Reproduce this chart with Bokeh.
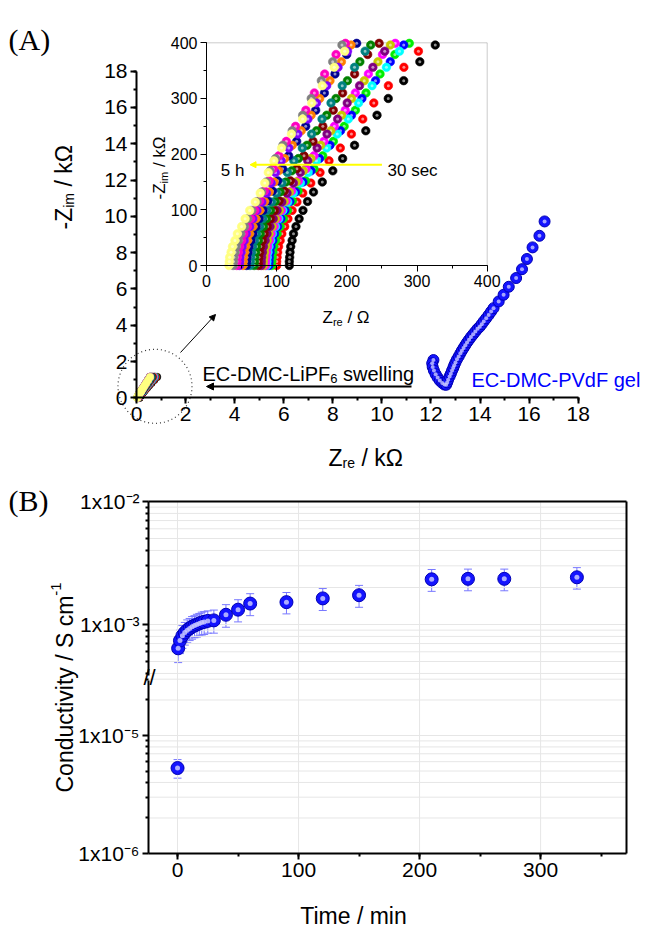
from bokeh.plotting import figure
from bokeh.models import (Range1d, LinearAxis, LogAxis, LogScale, FixedTicker,
                          SingleIntervalTicker, BoxAnnotation, Label, Arrow,
                          NormalHead, TeeHead, Whisker, ColumnDataSource, Grid)
from bokeh.layouts import column
from bokeh.embed import file_html
from bokeh.resources import INLINE

FONT = "Liberation Sans"
SERIF = "Liberation Serif"

# ------------------------------------------------------------------ data
# Inset / swelling spectra: -Z_im (Ohm) sampling of the spectra
ZIM_A = [0, 7, 15, 24, 34, 45, 57, 70, 84, 99, 115, 132, 150, 170, 192, 216,
         242, 270, 300, 332, 366, 396, 470, 560, 680, 820, 980, 1150]
ZIM_B = [0, 7, 15, 24, 34, 45, 57, 70, 84, 99, 114, 130, 148, 167, 188, 211,
         236, 263, 292, 323, 356, 385, 462, 552, 672, 812, 972, 1142]
ZIM_C = [0, 7, 15, 24, 34, 45, 57, 70, 84, 99, 116, 134, 152, 174, 197, 223,
         250, 279, 310, 344, 379, 399, 478, 568, 688, 828, 988, 1158]
# Z_re (Ohm) of each spectrum, from 30 sec (right) to 5 h (left)
ZRE_30S = [118, 118, 118.5, 119, 120, 122, 124, 127.5, 132, 137.5, 144, 152.5, 165, 180, 194, 211,
           227, 243, 259, 281, 304, 326, 373, 434, 515, 612, 722, 840]
ZRE_S2 = [100, 100, 100.6, 101.4, 102.7, 105, 107.4, 111.5, 116.1, 122, 128.9, 137.2, 148.6, 161.8, 174.6, 190.7,
          206.5, 222.7, 238.4, 259.2, 281.3, 302, 347.4, 405.4, 482.6, 574.7, 679, 791]
ZRE_S3 = [93, 93.1, 93.7, 94.6, 95.9, 98.3, 100.7, 105, 109.6, 115.4, 122.3, 130.4, 141.2, 153.2, 165.6, 180.8,
          196.2, 212.2, 227.3, 247.3, 268.5, 289, 333, 389, 463, 552, 652, 760]
ZRE_S4 = [89, 89.2, 89.7, 90.7, 92, 94.5, 97, 101.4, 106, 111.9, 118.8, 126.9, 137.4, 149, 161, 176,
          191, 206.6, 221.5, 240.9, 261.9, 281, 324, 378.6, 451, 537, 635, 740]
ZRE_S5 = [86, 86.2, 86.7, 87.7, 89.1, 91.6, 94.1, 98.5, 103.1, 108.9, 115.9, 123.7, 133.9, 144.9, 156.6, 171.2,
          186.3, 202.1, 216.7, 235.9, 256.4, 275, 317.5, 371, 442, 526.6, 622.6, 725.6]
ZRE_S6 = [84, 84.2, 84.7, 85.7, 87.1, 89.6, 92.1, 96.5, 101.1, 106.8, 113.6, 121.4, 131.1, 141.9, 153.2, 167.4,
          182.2, 197.7, 212.1, 230.7, 250.8, 269, 310.5, 362.9, 432.3, 514.6, 608.3, 708.8]
ZRE_S7 = [81, 81.2, 81.7, 82.8, 84.2, 86.7, 89.2, 93.6, 98.1, 103.8, 110.6, 118.2, 127.7, 137.9, 148.8, 162.7,
          177.2, 192.5, 206.6, 224.8, 244.3, 262, 302.7, 353.6, 421.4, 501.6, 593, 690.7]
ZRE_S8 = [78, 78.2, 78.7, 79.8, 81.2, 83.7, 86.3, 90.6, 95.1, 100.7, 107.4, 114.8, 123.9, 133.6, 144.3, 157.6,
          171.7, 186.8, 200.5, 218.1, 237.1, 254, 293.6, 343.2, 408.8, 486.4, 574.9, 669.7]
ZRE_S9 = [74, 74.2, 74.7, 75.9, 77.3, 79.9, 82.4, 86.9, 91.3, 96.9, 103.6, 110.8, 119.5, 128.8, 138.9, 151.8,
          165.8, 180.6, 194, 211.1, 229.7, 246, 284.7, 332.8, 396.6, 472.1, 558.1, 650.1]
ZRE_S10 = [68, 68.3, 68.7, 70, 71.4, 74, 76.6, 81.2, 85.5, 91.1, 97.8, 104.8, 113, 121.4, 130.9, 143.3,
           156.8, 171.4, 184.5, 200.8, 218.6, 234, 271.4, 317.5, 378.6, 450.7, 533, 621]
ZRE_S11 = [62, 62.3, 62.8, 64.1, 65.6, 68.3, 71.1, 75.8, 80.2, 85.8, 92.7, 99.6, 107.4, 115.2, 124.5, 136.5,
           149.8, 164.6, 177.4, 193.4, 210.9, 226, 262.8, 308, 367.9, 438.2, 518.6, 604.7]
ZRE_S12 = [57, 57.3, 57.8, 59.2, 60.7, 63.4, 66.1, 70.8, 75.1, 80.7, 87.4, 94, 101.4, 108.4, 117.1, 128.5,
           141.4, 155.6, 168, 183.1, 199.8, 214, 249.2, 292.2, 349.1, 415.9, 492.4, 574]
ZRE_S13 = [52, 52.3, 52.8, 54.2, 55.8, 58.6, 61.4, 66.2, 70.5, 76.1, 82.8, 89.4, 96.4, 102.9, 111.2, 122.2,
           135, 149.1, 161.3, 176, 192.3, 206, 240.5, 282.4, 337.8, 402.7, 477, 556.4]
ZRE_S14 = [47, 47.4, 47.8, 49.4, 51, 53.9, 56.8, 61.8, 66.2, 72, 78.9, 85.5, 92.2, 98.3, 106.4, 117.3,
           130.2, 144.5, 156.7, 171.3, 187.5, 201, 235.4, 276.9, 331.9, 396.1, 469.7, 548.3]
ZRE_S15 = [43, 43.4, 43.9, 45.5, 47.2, 50.3, 53.3, 58.5, 63, 68.8, 76, 82.6, 89.3, 95, 103, 113.8,
           126.9, 141.6, 153.7, 168.4, 184.6, 198, 232.6, 274.1, 329.2, 393.3, 466.8, 545.3]
ZRE_S16 = [38, 38.4, 38.9, 40.7, 42.5, 45.6, 48.8, 54.2, 58.8, 64.8, 72.1, 78.7, 85.2, 90.5, 98.3, 108.9,
           122.1, 137, 149.2, 163.6, 179.8, 193, 227.6, 268.7, 323.3, 386.8, 459.6, 537.3]
ZRE_5H = [32, 32.5, 33, 35, 37, 40.5, 44, 50, 55, 61.5, 69.5, 76.5, 83, 88, 96, 107,
          121, 137, 150, 165, 182, 197, 232, 275, 332, 398, 474, 555]
SPECTRA = [ZRE_30S, ZRE_S2, ZRE_S3, ZRE_S4, ZRE_S5, ZRE_S6, ZRE_S7, ZRE_S8, ZRE_S9,
           ZRE_S10, ZRE_S11, ZRE_S12, ZRE_S13, ZRE_S14, ZRE_S15, ZRE_S16, ZRE_5H]
SPEC_ZIM = [ZIM_A, ZIM_B, ZIM_C, ZIM_A, ZIM_B, ZIM_C, ZIM_A, ZIM_B, ZIM_C,
            ZIM_A, ZIM_B, ZIM_C, ZIM_A, ZIM_B, ZIM_C, ZIM_A, ZIM_B]
SPEC_COLORS = ["#000000", "#ff0000", "#00ee00", "#0000ff", "#00ffff", "#ff00ff", "#c8c800",
               "#800080", "#800000", "#008000", "#008080", "#000090", "#ff8000", "#8000ff",
               "#ff00c0", "#808080", "#ffff80"]

# EC-DMC-PVdF gel spectrum (kOhm)
GEL_ZRE = [12.10, 12.05, 12.07, 12.12, 12.19, 12.27, 12.36, 12.46, 12.55, 12.62, 12.66, 12.70,
           12.76, 12.81, 12.86, 12.91, 12.95, 13.00, 13.06, 13.13, 13.20, 13.26, 13.33, 13.40,
           13.47, 13.55, 13.63, 13.72, 13.81, 13.90, 13.99, 14.07, 14.15, 14.25, 14.35, 14.45,
           14.55, 14.76, 14.96, 15.17, 15.47, 15.71, 15.91, 16.14, 16.42, 16.63]
GEL_ZIM = [2.08, 1.90, 1.70, 1.50, 1.30, 1.12, 0.95, 0.82, 0.73, 0.72, 0.85, 1.00,
           1.18, 1.33, 1.50, 1.65, 1.80, 1.95, 2.12, 2.28, 2.45, 2.60, 2.75, 2.90,
           3.05, 3.20, 3.35, 3.50, 3.65, 3.80, 3.92, 4.06, 4.21, 4.38, 4.56, 4.75,
           4.94, 5.31, 5.68, 6.12, 6.60, 7.09, 7.65, 8.29, 8.93, 9.72]

# Panel B conductivity
TIME_MIN = [0.5, 2, 4, 6, 8, 10, 12, 14, 16, 18, 20, 22, 25, 30, 40, 50, 60, 90, 120, 150, 210, 240, 270, 330]
SIGMA = [6.4e-4, 7.4e-4, 8.1e-4, 8.6e-4, 9.0e-4, 9.3e-4, 9.6e-4, 9.8e-4, 1.0e-3, 1.02e-3, 1.04e-3,
         1.05e-3, 1.07e-3, 1.08e-3, 1.2e-3, 1.32e-3, 1.48e-3, 1.52e-3, 1.63e-3, 1.73e-3, 2.33e-3,
         2.35e-3, 2.35e-3, 2.42e-3]
SIGMA_ERR = [1.5e-4, 1.6e-4, 1.7e-4, 1.8e-4, 1.9e-4, 1.9e-4, 2.0e-4, 2.0e-4, 2.1e-4, 2.1e-4, 2.2e-4,
             2.2e-4, 2.2e-4, 2.3e-4, 2.5e-4, 2.7e-4, 3.0e-4, 3.0e-4, 3.3e-4, 3.5e-4, 4.7e-4,
             4.7e-4, 4.7e-4, 4.8e-4]
TIME_DRY = [0]
SIGMA_DRY = [5.3e-6]
SIGMA_DRY_ERR = [0.95e-6]

TIME_TICKS = [0, 100, 200, 300]
UP_MAJOR = [1e-3, 1e-2]
UP_MINOR = [4e-4, 5e-4, 6e-4, 7e-4, 8e-4, 9e-4, 2e-3, 3e-3, 4e-3, 5e-3, 6e-3, 7e-3, 8e-3, 9e-3]
UP_LABELS = ["1x10\u207b\u00b3", "1x10\u207b\u00b2"]
LO_MAJOR = [1e-6, 1e-5]
LO_MINOR = [2e-6, 3e-6, 4e-6, 5e-6, 6e-6, 7e-6, 8e-6, 9e-6, 2e-5, 3e-5]
LO_LABELS = ["1x10\u207b\u2076", "1x10\u207b\u2075"]

# ------------------------------------------------------------------ helpers
AW = {'-': .333, 'Z': .611, 'i': .222, 'm': .833, ' ': .278, '/': .278, 'k': .5, '\u03a9': .768,
      'r': .333, 'e': .556, 'E': .667, 'C': .722, 'D': .722, 'M': .833, 'L': .556, 'P': .667,
      'F': .611, 's': .5, 'w': .722, 'l': .222, 'n': .556, 'g': .556, 'o': .556, 'd': .556,
      'u': .556, 'c': .5, 't': .278, 'v': .5, 'y': .5, 'S': .667, 'T': .611, 'x': .5}


def tw(s, size):
    return sum(AW.get(ch, .556) for ch in s) * size


def rich(fig, parts, px, py, xf, yf, vertical=False, color="black"):
    pos = 0.0
    for text, size, shift in parts:
        lead = len(text) - len(text.lstrip(" "))
        pos += lead * AW[' '] * size
        body = text.strip(" ")
        if vertical:
            lx, ly = px + shift, py - pos
        else:
            lx, ly = px + pos, py + shift
        fig.add_layout(Label(x=xf(lx), y=yf(ly), text=body, text_font=FONT,
                             text_font_size=f"{size}px", text_color=color,
                             text_align="left", text_baseline="alphabetic",
                             angle=90 if vertical else 0, angle_units="deg"))
        pos += tw(body, size)
        trail = len(text) - len(text.rstrip(" "))
        pos += trail * AW[' '] * size


def style_axis(ax, fs, lw):
    ax.axis_line_width = lw
    ax.axis_line_color = "black"
    ax.major_tick_in = 0
    ax.major_tick_out = 6
    ax.minor_tick_in = 0
    ax.minor_tick_out = 3
    ax.major_tick_line_width = lw
    ax.minor_tick_line_width = lw
    ax.major_tick_line_color = "black"
    ax.minor_tick_line_color = "black"
    ax.major_label_text_font = FONT
    ax.major_label_text_font_size = fs
    ax.major_label_text_color = "black"
    ax.major_label_standoff = 3


ORX, ORY = 0, 0                      # page position of the first canvas

# ------------------------------------------------------------------ panel A
WA, HA = 646, 472
PXK, PYK = 24.539, 18.144            # px per kOhm
X0P, Y0P = 136.0, 397.3              # page px of main origin


def XA(px):
    return (px - X0P) / PXK


def YA(py):
    return (Y0P - py) / PYK


IPX, IPY = 0.70175, 0.55675          # inset px per Ohm
IX0P, IY0P = 206.0, 265.0

pA = figure(width=WA, height=HA, x_range=Range1d(XA(ORX), XA(ORX + WA)),
            y_range=Range1d(YA(ORY + HA), YA(ORY)), x_axis_location=None, y_axis_location=None,
            toolbar_location=None, output_backend="svg", min_border=0,
            outline_line_color=None)
for g in pA.select(type=Grid):
    g.visible = False
pA.extra_x_ranges = {"ix": Range1d((ORX - IX0P) / IPX, (ORX + WA - IX0P) / IPX)}
pA.extra_y_ranges = {"iy": Range1d((IY0P - ORY - HA) / IPY, (IY0P - ORY) / IPY)}

axx = LinearAxis(fixed_location=0, bounds=(0, 18),
                 ticker=SingleIntervalTicker(interval=2, num_minor_ticks=2))
style_axis(axx, "21px", 2)
pA.add_layout(axx, "below")
axy = LinearAxis(fixed_location=0, bounds=(0, 18),
                 ticker=SingleIntervalTicker(interval=2, num_minor_ticks=2))
style_axis(axy, "21px", 2)
pA.add_layout(axy, "left")

# inset frame and axes
pA.add_layout(BoxAnnotation(left=0, right=400, bottom=0, top=400, x_range_name="ix",
                            y_range_name="iy", fill_color="white", fill_alpha=1.0,
                            line_color="#555555", line_width=1, level="underlay"))
iax = LinearAxis(x_range_name="ix", y_range_name="iy", fixed_location=0, bounds=(0, 400),
                 ticker=SingleIntervalTicker(interval=100, num_minor_ticks=2))
style_axis(iax, "16px", 1)
pA.add_layout(iax, "below")
iay = LinearAxis(x_range_name="ix", y_range_name="iy", fixed_location=0, bounds=(0, 400),
                 ticker=SingleIntervalTicker(interval=100, num_minor_ticks=2))
style_axis(iay, "16px", 1)
pA.add_layout(iay, "left")

# spectra in inset and (kOhm) in main plot
for zre, zim, col in zip(SPECTRA, SPEC_ZIM, SPEC_COLORS):
    keep = [(x, y) for x, y in zip(zre, zim) if x <= 400 and y <= 400]
    xi = [k[0] for k in keep]
    yi = [k[1] for k in keep]
    pA.scatter(xi, yi, x_range_name="ix", y_range_name="iy", size=8.5,
               fill_color=col, line_color=col, line_alpha=0.6)
    pA.scatter(xi, yi, x_range_name="ix", y_range_name="iy", size=3,
               fill_color="white", fill_alpha=0.55, line_color=None)
    pA.scatter([x / 1000 for x in zre], [y / 1000 for y in zim], size=7.5,
               fill_color=col, line_color=col, line_alpha=0.5)

# gel spectrum
pA.scatter(GEL_ZRE, GEL_ZIM, size=11, fill_color="#1414ff", line_color="#0000b4", line_width=1)
pA.scatter(GEL_ZRE, GEL_ZIM, size=4, fill_color="#c8c8ff", fill_alpha=0.8, line_color=None)

# magnifier circle + pointer
pA.circle(x=XA(154.5), y=YA(385.8), radius=37, radius_units="screen", fill_color=None,
          line_color="#333333", line_dash="1 3", line_width=1.2)
pA.add_layout(Arrow(x_start=XA(180), y_start=YA(352), x_end=XA(215), y_end=YA(314),
                    line_color="black", line_width=1,
                    end=NormalHead(size=6, fill_color="black", line_color="black")))
# swelling arrow
pA.add_layout(Arrow(x_start=XA(411), y_start=YA(386), x_end=XA(206), y_end=YA(386),
                    line_color="black", line_width=2,
                    end=NormalHead(size=7, fill_color="black", line_color="black")))
# yellow arrow in inset
pA.add_layout(Arrow(x_start=250, y_start=181, x_end=62, y_end=181, x_range_name="ix",
                    y_range_name="iy", line_color="#ffff00", line_width=2,
                    end=NormalHead(size=6, fill_color="#ffff00", line_color="#ffff00")))

# texts
pA.add_layout(Label(x=XA(8), y=YA(39), text="(A)", text_font=SERIF, text_font_size="30px",
                    text_color="black", text_baseline="alphabetic"))
pA.add_layout(Label(x=XA(244), y=YA(170), text="5 h", text_font=FONT, text_font_size="17px",
                    text_color="black", text_align="right", text_baseline="alphabetic"))
pA.add_layout(Label(x=XA(387), y=YA(170), text="30 sec", text_font=FONT, text_font_size="17px",
                    text_color="black", text_align="left", text_baseline="alphabetic"))
pA.add_layout(Label(x=XA(471), y=YA(379), text="EC-DMC-PVdF gel", text_font=FONT,
                    text_font_size="20px", text_color="#0000ff", text_baseline="alphabetic"))
rich(pA, [("EC-DMC-LiPF", 20, 0), ("6", 13, 5), (" swelling", 20, 0)], 202, 373, XA, YA)
rich(pA, [("Z", 23, 0), ("re", 14, 5), (" / k\u03a9", 23, 0)], 328, 457, XA, YA)
rich(pA, [("-Z", 23, 0), ("im", 14, 5), (" / k\u03a9", 23, 0)], 63, 229, XA, YA, vertical=True)
rich(pA, [("Z", 17, 0), ("re", 11, 4), (" / \u03a9", 17, 0)], 322, 317, XA, YA)
rich(pA, [("-Z", 17, 0), ("im", 11, 4), (" / k\u03a9", 17, 0)], 159, 199, XA, YA, vertical=True)

# ------------------------------------------------------------------ panel B
WB, HB = 646, 463
TOPB = ORY + HA                      # page y of figure top
FL, FR, FT, FB = 148, 626, 501, 853  # plot-box edges (page px)
XB0, XB1 = -24.0, 371.0              # time range of the plot box
DEC_UP, DEC_LO = 123.0, 118.0        # px per decade


def XB(px):
    return XB0 + (px - FL) * (XB1 - XB0) / (FR - FL)


def YB(py):
    return (FB - py) / (FB - FT)


pB = figure(width=WB, height=HB, x_range=Range1d(XB(ORX), XB(ORX + WB)),
            y_range=Range1d(YB(TOPB + HB), YB(TOPB)),
            x_axis_location=None, y_axis_location=None, toolbar_location=None,
            output_backend="svg", min_border=0, outline_line_color=None)
for g in pB.select(type=Grid):
    g.visible = False
pB.extra_y_ranges = {"up": Range1d(10 ** (-2 - (TOPB + HB - FT) / DEC_UP), 10 ** (-2 + (FT - TOPB) / DEC_UP)),
                     "lo": Range1d(10 ** (-6 - (TOPB + HB - FB) / DEC_LO), 10 ** (-6 + (FB - TOPB) / DEC_LO))}
pB.extra_y_scales = {"up": LogScale(), "lo": LogScale()}

UP_BOUND = 10 ** -3.415
LO_BOUND = 10 ** -4.534

# grid lines (kept inside the plot box)
GRID_C = "#e6e6e6"
pB.segment(x0=TIME_TICKS, y0=[0] * 4, x1=TIME_TICKS, y1=[1] * 4, line_color=GRID_C, line_width=1)
up_lines = [UP_MAJOR[0]] + UP_MINOR
pB.segment(x0=[XB0] * len(up_lines), y0=up_lines, x1=[XB1] * len(up_lines), y1=up_lines,
           y_range_name="up", line_color=GRID_C, line_width=1)
lo_lines = [LO_MAJOR[1]] + LO_MINOR
pB.segment(x0=[XB0] * len(lo_lines), y0=lo_lines, x1=[XB1] * len(lo_lines), y1=lo_lines,
           y_range_name="lo", line_color=GRID_C, line_width=1)
# top and right frame lines
pB.segment(x0=[XB0, XB1], y0=[1, 1], x1=[XB1, XB1], y1=[1, 0], line_color="black", line_width=2)

xb = LinearAxis(fixed_location=0, bounds=(XB0, XB1),
                ticker=SingleIntervalTicker(interval=100, num_minor_ticks=2))
style_axis(xb, "21px", 2)
pB.add_layout(xb, "below")

ayu = LogAxis(y_range_name="up", fixed_location=XB0, bounds=(UP_BOUND, 1e-2),
              ticker=FixedTicker(ticks=UP_MAJOR, minor_ticks=UP_MINOR),
              major_label_overrides=dict(zip(UP_MAJOR, UP_LABELS)))
style_axis(ayu, "21px", 2)
pB.add_layout(ayu, "left")
ayl = LogAxis(y_range_name="lo", fixed_location=XB0, bounds=(1e-6, LO_BOUND),
              ticker=FixedTicker(ticks=LO_MAJOR, minor_ticks=LO_MINOR),
              major_label_overrides=dict(zip(LO_MAJOR, LO_LABELS)))
style_axis(ayl, "21px", 2)
pB.add_layout(ayl, "left")

src_up = ColumnDataSource(dict(t=TIME_MIN, s=SIGMA,
                               hi=[s + e for s, e in zip(SIGMA, SIGMA_ERR)],
                               lo=[s - e for s, e in zip(SIGMA, SIGMA_ERR)]))
src_lo = ColumnDataSource(dict(t=TIME_DRY, s=SIGMA_DRY,
                               hi=[s + e for s, e in zip(SIGMA_DRY, SIGMA_DRY_ERR)],
                               lo=[s - e for s, e in zip(SIGMA_DRY, SIGMA_DRY_ERR)]))
for src, rn in ((src_up, "up"), (src_lo, "lo")):
    pB.add_layout(Whisker(source=src, base="t", upper="hi", lower="lo", dimension="height",
                          y_range_name=rn, line_color="#7878ff", line_width=1,
                          upper_head=TeeHead(size=8, line_color="#7878ff", line_width=1),
                          lower_head=TeeHead(size=8, line_color="#7878ff", line_width=1)))
    pB.scatter("t", "s", source=src, y_range_name=rn, size=13, fill_color="#1414ff",
               line_color="#0000b4", line_width=1)
    pB.scatter("t", "s", source=src, y_range_name=rn, size=5, fill_color="#c8c8ff",
               fill_alpha=0.85, line_color=None)

pB.add_layout(Label(x=XB(149), y=YB(677), text="//", text_font=FONT, text_color="black",
                    text_font_size="22px", text_align="center", text_baseline="middle"))
pB.add_layout(Label(x=XB(8), y=YB(500), text="(B)", text_font=SERIF, text_font_size="30px",
                    text_color="black", text_baseline="alphabetic"))
pB.add_layout(Label(x=XB(353), y=YB(915), text="Time / min", text_font=FONT, text_color="black",
                    text_font_size="23px", text_align="center", text_baseline="alphabetic"))
rich(pB, [("Conductivity / S cm", 23, 0), ("-1", 15, -9)], 64, 792, XB, YB, vertical=True)

layout = column(pA, pB)
open("out.html", "w").write(file_html(layout, INLINE, "chart"))
